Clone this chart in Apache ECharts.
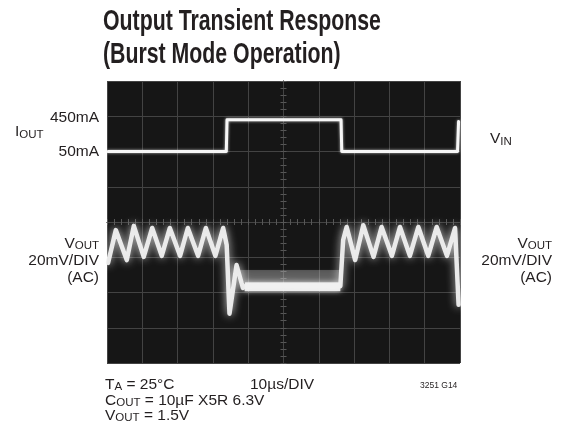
<!DOCTYPE html>
<html><head><meta charset="utf-8">
<script src="https://cdn.jsdelivr.net/npm/echarts@6/dist/echarts.min.js"></script>
<style>html,body{margin:0;padding:0;background:#fff}#c{width:565px;height:441px}</style>
</head><body><div id="c"></div>
<script>
// ---- data (time in µs relative to screen centre, level in divisions) ----
const ioutTime  = [-49.7, -16.2, -16.0, 16.3, 16.5, 49.3, 49.6];
const ioutLevel = [2.0, 2.0, 2.9, 2.9, 2.0, 2.0, 2.85];

const voutTime  = [-49.7, -47.5, -44.4, -42.4, -39.6, -37.2, -34.5, -32.2, -29.3, -27.1, -24.2, -22.0, -19.3, -17.1,
                   -16.1, -15.3, -13.3, -11.5, -10.3, 16.1, 16.9, 17.9, 20.3, 22.6, 25.5, 27.8, 30.7, 33.0, 35.8,
                   38.2, 41.0, 43.4, 46.3, 48.6, 49.6];
const voutLevel = [-1.16, -0.23, -1.08, -0.11, -0.99, -0.17, -0.96, -0.17, -0.96, -0.17, -0.96, -0.17, -0.96, -0.17,
                   -0.65, -2.6, -1.22, -1.87, -1.80, -1.82, -0.51, -0.14, -1.08, -0.09, -0.99, -0.14, -0.96, -0.14, -0.96,
                   -0.14, -0.96, -0.14, -0.96, -0.17, -2.35];

const loadCoreTime  = [-11.0, 16.1];
const loadCoreLevel = [-1.84, -1.84];
const loadHazeTime  = [-12.5, 16.1];
const loadHazeLevel = [-1.53, -1.53];

// ---- texts ----
const titleLines  = ['Output Transient Response', '(Burst Mode Operation)'];
const leftLabels  = ['450mA', 'I_{OUT}', '50mA', 'V_{OUT}', '20mV/DIV', '(AC)'];
const rightLabels = ['V_{IN}', 'V_{OUT}', '20mV/DIV', '(AC)'];
const footLines   = ['T_{A} = 25°C', 'C_{OUT} = 10µF X5R 6.3V', 'V_{OUT} = 1.5V'];
const timebase    = '10µs/DIV';
const figId       = '3251 G14';

const zip = (a, b) => a.map((v, i) => [v, b[i]]);
const FONT = '"Liberation Sans", Arial, sans-serif';
const INK = '#231f20';

function toRich(s) {
  let out = '';
  const re = /_\{([^}]*)\}/g;
  let last = 0, m;
  while ((m = re.exec(s)) !== null) {
    if (m.index > last) out += '{m|' + s.slice(last, m.index) + '}';
    out += '{s|' + m[1] + '}';
    last = re.lastIndex;
  }
  if (last < s.length) out += '{m|' + s.slice(last) + '}';
  return out;
}
function label(s, x, y, align) {
  return {
    type: 'text', x: x, y: y, silent: true,
    style: {
      text: toRich(s), align: align, verticalAlign: 'middle', fill: INK,
      rich: {
        m: { fontSize: 15.5, fontFamily: FONT, lineHeight: 17, fill: INK },
        s: { fontSize: 11.5, fontFamily: FONT, lineHeight: 10, verticalAlign: 'bottom', fill: INK }
      }
    }
  };
}

const graphics = [
  { type: 'text', x: 103, y: 21.5, scaleX: 0.734, silent: true,
    style: { text: titleLines[0], fontSize: 29, fontWeight: 'bold', fontFamily: FONT, fill: INK, align: 'left', verticalAlign: 'middle' } },
  { type: 'text', x: 103, y: 55, scaleX: 0.734, silent: true,
    style: { text: titleLines[1], fontSize: 29, fontWeight: 'bold', fontFamily: FONT, fill: INK, align: 'left', verticalAlign: 'middle' } },
  label(leftLabels[0], 99, 117.5, 'right'),
  label(leftLabels[1], 15, 132.2, 'left'),
  label(leftLabels[2], 99, 151.5, 'right'),
  label(leftLabels[3], 99, 243.8, 'right'),
  label(leftLabels[4], 99, 261, 'right'),
  label(leftLabels[5], 99, 278, 'right'),
  label(rightLabels[0], 490, 139, 'left'),
  label(rightLabels[1], 552, 243.8, 'right'),
  label(rightLabels[2], 552, 261, 'right'),
  label(rightLabels[3], 552, 278, 'right'),
  label(footLines[0], 105, 384.5, 'left'),
  label(footLines[1], 105, 400.3, 'left'),
  label(footLines[2], 105, 415.8, 'left'),
  label(timebase, 250, 384.5, 'left'),
  { type: 'text', x: 420, y: 386, silent: true,
    style: { text: figId, fontSize: 8.5, fontFamily: FONT, fill: INK, align: 'left', verticalAlign: 'middle' } }
];

const gridC = '#434343';
const tickC = '#575757';
function xAx(pos, split) {
  return {
    type: 'value', min: -50, max: 50, interval: 10, position: pos,
    axisLine: { show: true, onZero: true, lineStyle: { color: gridC, width: 1 } },
    axisTick: { show: true, length: 3, lineStyle: { color: tickC } },
    minorTick: { show: true, splitNumber: 5, length: 3, lineStyle: { color: tickC } },
    axisLabel: { show: false },
    splitLine: { show: split, lineStyle: { color: gridC, width: 1 } },
    minorSplitLine: { show: false }
  };
}
function yAx(pos, split) {
  return {
    type: 'value', min: -4, max: 4, interval: 1, position: pos,
    axisLine: { show: true, onZero: true, lineStyle: { color: gridC, width: 1 } },
    axisTick: { show: true, length: 3, lineStyle: { color: tickC } },
    minorTick: { show: true, splitNumber: 5, length: 3, lineStyle: { color: tickC } },
    axisLabel: { show: false },
    splitLine: { show: split, lineStyle: { color: gridC, width: 1 } },
    minorSplitLine: { show: false }
  };
}

const chart = echarts.init(document.getElementById('c'), null, { renderer: 'canvas' });
chart.setOption({
  animation: false,
  backgroundColor: '#ffffff',
  grid: { left: 107, top: 81, width: 353, height: 282, show: true, backgroundColor: '#161616', borderWidth: 0, containLabel: false },
  xAxis: [xAx('bottom', true), xAx('top', false)],
  yAxis: [yAx('left', true), yAx('right', false)],
  graphic: graphics,
  series: [
    { type: 'line', name: 'haze', data: zip(loadHazeTime, loadHazeLevel), symbol: 'none', silent: true,
      lineStyle: { color: 'rgba(185,185,185,0.35)', width: 12, cap: 'butt', shadowBlur: 3, shadowColor: 'rgba(185,185,185,0.4)' } },
    { type: 'line', name: 'core', data: zip(loadCoreTime, loadCoreLevel), symbol: 'none', silent: true,
      lineStyle: { color: 'rgba(240,240,240,0.95)', width: 9, cap: 'butt', shadowBlur: 4, shadowColor: 'rgba(255,255,255,0.6)' } },
    { type: 'line', name: 'VOUT', data: zip(voutTime, voutLevel), symbol: 'none', silent: true,
      lineStyle: { color: 'rgba(240,240,240,0.95)', width: 4.5, join: 'round', cap: 'round', shadowBlur: 8, shadowColor: 'rgba(255,255,255,0.85)' } },
    { type: 'line', name: 'IOUT', data: zip(ioutTime, ioutLevel), symbol: 'none', silent: true,
      lineStyle: { color: '#f6f6f6', width: 3, join: 'round', cap: 'round', shadowBlur: 3, shadowColor: 'rgba(255,255,255,0.7)' } }
  ]
});
</script></body></html>
